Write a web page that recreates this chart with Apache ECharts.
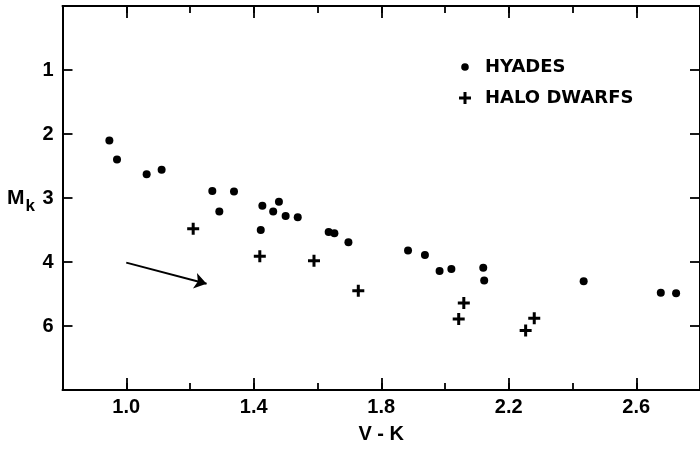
<!DOCTYPE html>
<html>
<head>
<meta charset="utf-8">
<script src="https://cdn.jsdelivr.net/npm/echarts@6/dist/echarts.min.js"></script>
<style>
html,body{margin:0;padding:0;background:#fff;}
#chart{width:700px;height:449px;}
</style>
</head>
<body>
<div id="chart"></div>
<script>
// ---- data ----
const hyadesVK = [0.947, 0.971, 1.064, 1.111, 1.270, 1.338, 1.292, 1.427, 1.479, 1.461, 1.500, 1.538, 1.422, 1.635, 1.653, 1.697, 1.884, 1.937, 1.983, 2.020, 2.120, 2.123, 2.435, 2.677, 2.725];
const hyadesMk = [2.10, 2.40, 2.63, 2.56, 2.89, 2.90, 3.21, 3.12, 3.06, 3.21, 3.28, 3.30, 3.50, 3.53, 3.55, 3.69, 3.82, 3.89, 4.14, 4.11, 4.09, 4.29, 4.30, 4.48, 4.49];
const haloVK = [1.210, 1.419, 1.589, 1.728, 2.059, 2.043, 2.280, 2.253];
const haloMk = [3.48, 3.91, 3.98, 4.45, 4.64, 4.89, 4.88, 5.07];
const arrowFrom = [1.0, 4.01];
const arrowTo = [1.252, 4.34];
const xMajorTicks = [1.0, 1.4, 1.8, 2.2, 2.6];
const yTickValues = [1, 2, 3, 4, 5];
const yTickLabels = ['1', '2', '3', '4', '6'];
const seriesNames = ['HYADES', 'HALO DWARFS'];

const FONT = 'Liberation Sans';
const LEGEND_FONT = 'DejaVu Sans';
const INK = '#000';
const crossPath = 'path://M4.5,0H7.5V4.5H12V7.5H7.5V12H4.5V7.5H0V4.5H4.5Z';
const dotIcon = 'path://M0,0h0.01M12,12h0.01M6,2.2a3.8,3.8 0 1,1 -0.01,0Z';

const hyades = hyadesVK.map((v, i) => [v, hyadesMk[i]]);
const halo = haloVK.map((v, i) => [v, haloMk[i]]);

function xAxisBase(pos, major) {
  return {
    type: 'value', position: pos, min: 0.8, max: 2.8,
    interval: 0.2,
    axisLine: { show: !major, onZero: false, lineStyle: { color: INK, width: 2 } },
    axisTick: major
      ? { inside: true, length: 12, customValues: xMajorTicks, lineStyle: { color: INK, width: 1.8 } }
      : { inside: true, length: 7, lineStyle: { color: INK, width: 1.8 } },
    axisLabel: (major && pos === 'bottom')
      ? { show: true, customValues: xMajorTicks, formatter: v => v.toFixed(1), fontSize: 20, fontWeight: 'bold', fontFamily: FONT, color: INK, margin: 7 }
      : { show: false },
    splitLine: { show: false }
  };
}

const xBottom = xAxisBase('bottom', false);
xBottom.name = 'V - K';
xBottom.nameLocation = 'middle';
xBottom.nameGap = 34;
xBottom.nameTextStyle = { fontSize: 20, fontWeight: 'bold', fontFamily: FONT, color: INK };

function yAxisBase(pos) {
  return {
    type: 'value', position: pos, inverse: true, min: 0, max: 6, interval: 1,
    axisLine: { show: true, onZero: false, lineStyle: { color: INK, width: 2 } },
    axisTick: { inside: true, length: 10, lineStyle: { color: INK, width: 1.8 } },
    axisLabel: pos === 'left' ? {
      show: true, fontSize: 20, fontWeight: 'bold', fontFamily: FONT, color: INK, margin: 9,
      formatter: v => { const k = yTickValues.indexOf(Math.round(v)); return k >= 0 ? yTickLabels[k] : ''; }
    } : { show: false },
    splitLine: { show: false }
  };
}

const chart = echarts.init(document.getElementById('chart'), null, { renderer: 'canvas' });
chart.setOption({
  animation: false,
  backgroundColor: '#fff',
  grid: { left: 62.5, top: 6, right: -4, bottom: 55, containLabel: false },
  xAxis: [xBottom, xAxisBase('bottom', true), xAxisBase('top', false), xAxisBase('top', true)],
  yAxis: [yAxisBase('left'), yAxisBase('right')],
  legend: {
    orient: 'vertical', left: 459, top: 57.5, padding: 0,
    itemWidth: 12, itemHeight: 12, itemGap: 12,
    textStyle: { fontSize: 18, lineHeight: 19, fontWeight: 'bold', fontFamily: LEGEND_FONT, color: INK, padding: [0, 0, 0, 9] },
    data: [{ name: seriesNames[0], icon: dotIcon }, { name: seriesNames[1], icon: crossPath }]
  },
  graphic: [{
    type: 'text', left: 7, top: 188,
    style: {
      text: '{m|M}{k|k}', fill: INK,
      rich: {
        m: { fontSize: 21, fontWeight: 'bold', fontFamily: FONT, fill: INK, verticalAlign: 'bottom', padding: [0, 1, 6, 0] },
        k: { fontSize: 17, fontWeight: 'bold', fontFamily: FONT, fill: INK, verticalAlign: 'bottom' }
      }
    }
  }],
  series: [
    {
      name: seriesNames[0], type: 'scatter', xAxisIndex: 0, yAxisIndex: 0,
      symbol: 'circle', symbolSize: 8, itemStyle: { color: INK, opacity: 1 },
      data: hyades,
      markLine: {
        silent: true, symbol: ['none', 'arrow'], symbolSize: 12,
        lineStyle: { color: INK, width: 2, type: 'solid' },
        label: { show: false },
        data: [[{ coord: arrowFrom }, { coord: arrowTo }]]
      }
    },
    {
      name: seriesNames[1], type: 'scatter', xAxisIndex: 0, yAxisIndex: 0,
      symbol: crossPath, symbolSize: 12, itemStyle: { color: INK, opacity: 1 },
      data: halo
    }
  ]
});
</script>
</body>
</html>
